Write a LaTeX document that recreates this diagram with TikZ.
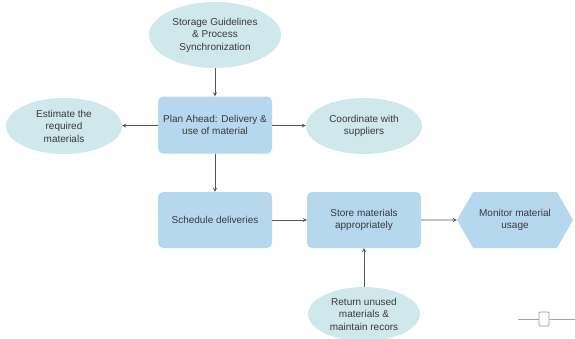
\documentclass[tikz,border=0pt]{standalone}
\usepackage{fontspec}
\setmainfont{Liberation Sans}
\usetikzlibrary{shapes.geometric,shapes.symbols}

\definecolor{boxblue}{HTML}{B5D8EF}
\definecolor{ovalcyan}{HTML}{CFE8EC}
\definecolor{txtgray}{HTML}{3A3A3A}
\definecolor{arrgray}{HTML}{555555}

\tikzset{
    task/.style={draw=none, fill=boxblue, rounded corners=5pt, minimum width=114pt, minimum height=56pt, align=center, text=txtgray, font=\fontsize{10}{12.5}\selectfont},
    oval/.style={ellipse, draw=none, fill=ovalcyan, minimum width=116pt, minimum height=56pt, inner sep=0pt, align=center, text=txtgray, font=\fontsize{10}{12.5}\selectfont},
    flow/.style={->, >=stealth, arrgray, line width=0.8pt}
}

\begin{document}
\begin{tikzpicture}[x=1pt, y=-1pt]
    \useasboundingbox (0,0) rectangle (575,338);

    % Nodi principali
    \node[oval, minimum width=132pt, minimum height=66pt] (guide) at (215,35) {Storage Guidelines\\\& Process\\Synchronization};
    \node[task, minimum height=57pt] (plan) at (215,125) {Plan Ahead: Delivery \&\\use of material};
    \node[oval] (estim) at (64,126) {Estimate the\\required\\materials};
    \node[oval] (suppl) at (364,126) {Coordinate with\\suppliers};

    % Seconda riga
    \node[task] (sched) at (215,220) {Schedule deliveries};
    \node[task] (store) at (364,220) {Store materials\\appropriately};
    \node[signal, signal to=west and east, signal pointer angle=120, fill=boxblue, draw=none, minimum width=116pt, minimum height=56pt, inner sep=0pt, align=center, text=txtgray, font=\fontsize{10}{12.5}\selectfont] (monitor) at (515,220) {Monitor material\\usage};
    \node[oval, minimum width=112pt, minimum height=54pt] (ret) at (364,314) {Return unused\\materials \&\\maintain recors};

    % Frecce
    \draw[flow] (guide) -- (plan);
    \draw[flow] (plan) -- (estim);
    \draw[flow] (plan) -- (suppl);
    \draw[flow] (plan) -- (sched);
    \draw[flow] (sched) -- (store);
    \draw[flow] (store) -- (monitor);
    \draw[flow] (ret) -- (store);

    % Cursore in basso a destra
    \draw[gray!70, line width=0.8pt] (518,319) -- (575,319);
    \filldraw[draw=gray!80, fill=white, line width=0.8pt, rounded corners=1pt] (539,312) rectangle (549,326);
\end{tikzpicture}
\end{document}
